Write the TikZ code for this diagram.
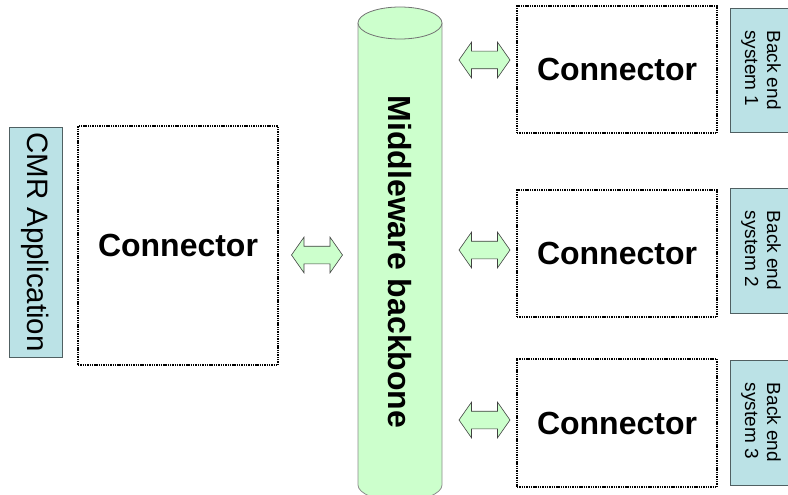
\documentclass[tikz,border=0pt]{standalone}
\usepackage{fontspec}
\setmainfont{Liberation Sans}
\usetikzlibrary{shapes.arrows}
\definecolor{appcyan}{RGB}{187,226,230}
\definecolor{appedge}{RGB}{80,96,98}
\definecolor{busgreen}{RGB}{204,255,204}

\begin{document}
\begin{tikzpicture}[
  x=1pt, y=-1pt,
  conn/.style={draw, line width=1.4pt, dash pattern=on 1.4pt off 0.9pt, minimum width=200pt, inner sep=0pt,
    font=\fontsize{32}{36}\selectfont\bfseries},
  app/.style={draw=appedge, line width=0.8pt, fill=appcyan, rotate=-90, inner sep=0pt},
  backend/.style={app, minimum height=62pt, align=left, font=\fontsize{19}{22}\selectfont},
  link/.style={double arrow, draw=black!75, line width=0.6pt, fill=busgreen, minimum height=51pt,
    inner xsep=0pt, inner ysep=8.5pt, double arrow head extend=9pt, double arrow tip angle=110}
]
  \clip (0,0) rectangle (788,495);
  % application side
  \node[app, minimum width=230pt, minimum height=53pt, font=\fontsize{29.5}{32}\selectfont] (cmr) at (35.5,242) {CMR Application};
  \node[conn, minimum height=239pt] (conL) at (178,245.5) {Connector};
  % backbone
  \draw[draw=black!45, line width=0.8pt, fill=busgreen]
    (358,23) -- (358,485) arc[start angle=180, end angle=0, x radius=42, y radius=16] -- (442,23);
  \draw[draw=black!55, line width=0.8pt, fill=busgreen] (400,23) ellipse[x radius=42, y radius=16];
  \node[rotate=-90, inner sep=0pt, font=\fontsize{32}{36}\selectfont\bfseries] (mw) at (400,262) {Middleware backbone};
  % back end side
  \node[conn, minimum height=127pt] (conR1) at (617,69.5) {Connector};
  \node[conn, minimum height=127pt] (conR2) at (617,253.5) {Connector};
  \node[conn, minimum height=128pt] (conR3) at (617,423) {Connector};
  \node[backend, minimum width=124pt] (be1) at (761,70) {Back end\\system 1};
  \node[backend, minimum width=125pt] (be2) at (761,250.5) {Back end\\system 2};
  \node[backend, minimum width=125pt] (be3) at (761,422.5) {Back end\\system 3};
  % links to the backbone
  \node[link] (aL) at (317,255) {};
  \node[link] (a1) at (484.5,60) {};
  \node[link] (a2) at (484.5,250) {};
  \node[link] (a3) at (484.5,420) {};
\end{tikzpicture}
\end{document}
